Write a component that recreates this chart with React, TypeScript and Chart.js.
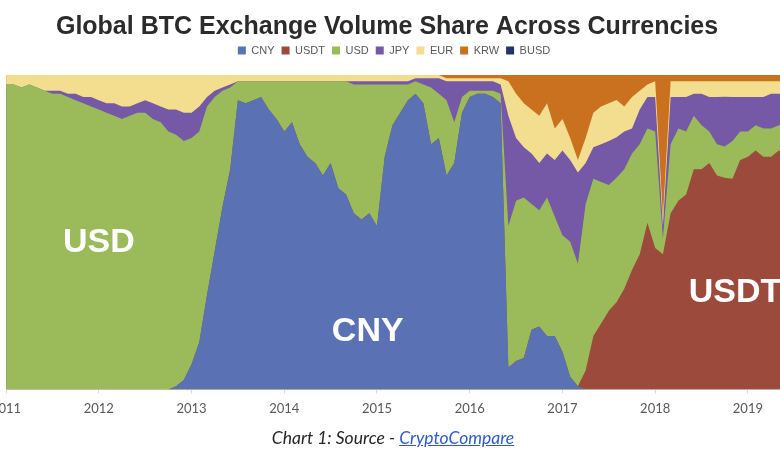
import React, { useEffect, useRef } from "react";
import { Chart, registerables } from "chart.js";

Chart.register(...registerables);

// ---- data (monthly shares, %, Jan 2011 .. Jun 2019) ----
const START_YEAR = 2011;
const currencies = ["CNY", "USDT", "USD", "JPY", "EUR", "KRW", "BUSD"];
const yearTicks = [2011, 2012, 2013, 2014, 2015, 2016, 2017, 2018, 2019];

const cny = [
  0, 0, 0, 0, 0, 0, 0, 0, 0, 0, 0, 0,
  0, 0, 0, 0, 0, 0, 0, 0, 0, 0, 1, 3,
  8, 15, 30, 44, 58, 70, 92, 91, 92, 93, 89, 86,
  82, 85, 78, 74, 72, 68, 72, 64, 62, 56, 54, 56,
  52, 74, 84, 88, 92, 94, 91, 78, 80, 68, 72, 88,
  93, 94, 94, 93, 91, 7, 9, 10, 19, 20, 17, 17,
  12, 4, 1, 0, 0, 0, 0, 0, 0, 0, 0, 0,
  0, 0, 0, 0, 0, 0, 0, 0, 0, 0, 0, 0,
  0, 0, 0, 0, 0, 0,
];
const usdt = [
  0, 0, 0, 0, 0, 0, 0, 0, 0, 0, 0, 0,
  0, 0, 0, 0, 0, 0, 0, 0, 0, 0, 0, 0,
  0, 0, 0, 0, 0, 0, 0, 0, 0, 0, 0, 0,
  0, 0, 0, 0, 0, 0, 0, 0, 0, 0, 0, 0,
  0, 0, 0, 0, 0, 0, 0, 0, 0, 0, 0, 0,
  0, 0, 0, 0, 0, 0, 0, 0, 0, 0, 0, 0,
  0, 0, 0, 6, 17, 21, 25, 28, 32, 38, 43, 53,
  45, 43, 56, 60, 62, 70, 70, 72, 68, 68, 67, 73,
  74, 76, 74, 74, 76, 75,
];
const usd = [
  97, 97, 96, 97, 96, 95, 94, 94, 93, 92, 91, 90,
  89, 88, 87, 86, 87, 88, 88, 86, 85, 82, 80, 76,
  72, 67, 60, 49, 37, 26, 6, 7, 6, 5, 9, 12,
  16, 13, 20, 24, 26, 30, 26, 34, 36, 41, 43, 41,
  45, 23, 13, 9, 5, 4, 6, 18, 14, 24, 13, 5,
  2, 1, 1, 2, 3, 45, 51, 51, 40, 37, 44, 38,
  37, 43, 39, 53, 50, 45, 40, 40, 38, 37, 35, 30,
  37, 5, 22, 23, 20, 17, 14, 10, 10, 10, 12, 9,
  8, 8, 9, 9, 8, 9,
];
const jpy = [
  0, 0, 0, 0, 0, 0, 1, 1, 1, 2, 2, 3,
  3, 3, 4, 4, 3, 3, 4, 5, 5, 7, 8, 9,
  8, 8, 3, 2, 1, 1, 0, 0, 0, 0, 0, 0,
  0, 0, 0, 0, 0, 0, 0, 0, 0, 1, 1, 1,
  1, 1, 1, 1, 1, 1, 2, 3, 5, 6, 13, 5,
  3, 3, 3, 3, 3, 35, 20, 16, 16, 15, 14, 18,
  27, 26, 29, 13, 10, 12, 14, 13, 12, 8, 11, 10,
  11, 4, 15, 10, 11, 7, 10, 11, 15, 16, 14, 11,
  11, 9, 10, 11, 10, 10,
];
const eur = [
  3, 3, 4, 3, 4, 5, 5, 5, 6, 6, 7, 7,
  8, 9, 9, 10, 10, 9, 8, 9, 10, 11, 11, 12,
  12, 10, 7, 5, 4, 3, 2, 2, 2, 2, 2, 2,
  2, 2, 2, 2, 2, 2, 2, 2, 2, 2, 2, 2,
  2, 2, 2, 2, 2, 1, 1, 1, 1, 1, 1, 1,
  1, 1, 1, 1, 2, 11, 14, 14, 14, 15, 16, 10,
  10, 7, 4, 8, 11, 12, 12, 12, 8, 10, 6, 4,
  5, 3, 5, 5, 5, 4, 4, 5, 5, 5, 5, 5,
  5, 5, 5, 4, 4, 4,
];
const krw = [
  0, 0, 0, 0, 0, 0, 0, 0, 0, 0, 0, 0,
  0, 0, 0, 0, 0, 0, 0, 0, 0, 0, 0, 0,
  0, 0, 0, 0, 0, 0, 0, 0, 0, 0, 0, 0,
  0, 0, 0, 0, 0, 0, 0, 0, 0, 0, 0, 0,
  0, 0, 0, 0, 0, 0, 0, 0, 0, 1, 1, 1,
  1, 1, 1, 1, 1, 2, 6, 9, 11, 13, 9, 17,
  14, 20, 27, 20, 12, 10, 9, 8, 10, 7, 5, 3,
  2, 45, 2, 2, 2, 2, 2, 2, 2, 2, 2, 2,
  2, 2, 2, 2, 2, 2,
];
const busd = [
  0, 0, 0, 0, 0, 0, 0, 0, 0, 0, 0, 0,
  0, 0, 0, 0, 0, 0, 0, 0, 0, 0, 0, 0,
  0, 0, 0, 0, 0, 0, 0, 0, 0, 0, 0, 0,
  0, 0, 0, 0, 0, 0, 0, 0, 0, 0, 0, 0,
  0, 0, 0, 0, 0, 0, 0, 0, 0, 0, 0, 0,
  0, 0, 0, 0, 0, 0, 0, 0, 0, 0, 0, 0,
  0, 0, 0, 0, 0, 0, 0, 0, 0, 0, 0, 0,
  0, 0, 0, 0, 0, 0, 0, 0, 0, 0, 0, 0,
  0, 0, 0, 0, 0, 0,
];

// in-area labels (text + data-space anchor)
const areaLabelText = ["USD", "CNY", "USDT"];
const areaLabelYear = [2012.0, 2014.9, 2018.86];
const areaLabelShare = [46.7, 18.4, 30.8];

const TITLE = "Global BTC Exchange Volume Share Across Currencies\u00a0\u00a0";

// ---- styles ----
const COLORS = ["#5a72b3", "#9c4a3c", "#9bba5a", "#7659a6", "#f2de8e", "#c9711f", "#25336d"];

const areaLabelPlugin = {
  id: "areaLabels",
  afterDatasetsDraw(chart: any) {
    const { ctx, scales } = chart;
    ctx.save();
    ctx.beginPath();
    const a = chart.chartArea;
    ctx.rect(a.left, a.top, a.right - a.left, a.bottom - a.top);
    ctx.clip();
    ctx.fillStyle = "#ffffff";
    ctx.font = "bold 34px 'Liberation Sans', Arial, sans-serif";
    ctx.textAlign = "center";
    ctx.textBaseline = "middle";
    areaLabelText.forEach((t, i) => {
      ctx.fillText(t, scales.x.getPixelForValue(areaLabelYear[i]), scales.y.getPixelForValue(areaLabelShare[i]));
    });
    ctx.restore();
  },
};

export default function App() {
  const ref = useRef<HTMLCanvasElement>(null);

  useEffect(() => {
    if (!ref.current) return;
    const series = [cny, usdt, usd, jpy, eur, krw, busd];
    const n = cny.length;
    const totals = Array.from({ length: n }, (_, i) => series.reduce((s, arr) => s + arr[i], 0));
    // Every stacked area is filled down to the axis; datasets are painted top-first,
    // so each lower currency covers the rest and no seams appear between bands.
    const datasets = series.map((arr, k) => ({
      label: currencies[k],
      data: arr.map((v, i) => ({ x: START_YEAR + i / 12, y: (v / totals[i]) * 100 })),
      backgroundColor: COLORS[k],
      borderColor: COLORS[k],
      borderWidth: 0,
      pointRadius: 0,
      pointHoverRadius: 0,
      tension: 0,
      fill: k === series.length - 1 ? false : "origin",
    }));

    const chart = new Chart(ref.current, {
      type: "line",
      data: { datasets },
      plugins: [areaLabelPlugin],
      options: {
        responsive: false,
        animation: false,
        layout: { padding: { left: 20, right: 20, top: 0, bottom: 5 } },
        plugins: {
          title: {
            display: true,
            text: TITLE,
            color: "#2b2b2b",
            font: { family: "'Liberation Sans', Arial, sans-serif", size: 25, weight: "bold" },
            padding: { top: 12, bottom: -4 },
          },
          subtitle: {
            display: true,
            text: "",
            weight: 500,
            font: { size: 1 },
            padding: { top: 0, bottom: 7.8 },
          },
          legend: {
            display: true,
            position: "top",
            labels: {
              boxWidth: 8,
              boxHeight: 8,
              padding: 7,
              color: "#595959",
              font: { family: "'Liberation Sans Narrow', 'Liberation Sans', sans-serif", size: 11 },
            },
          },
          tooltip: { enabled: false },
        },
        scales: {
          x: {
            type: "linear",
            min: 2011,
            max: 2019.4,
            afterBuildTicks: (scale: any) => {
              scale.ticks = yearTicks.map((v) => ({ value: v }));
            },
            ticks: {
              color: "#595959",
              font: { family: "Lato, sans-serif", size: 13 },
              padding: 8,
              maxRotation: 0,
              autoSkip: false,
              callback: (v: any) => String(v),
            },
            grid: { display: true, drawOnChartArea: false, drawTicks: true, tickLength: 4, color: "#d9d9d9" },
            border: { display: true, color: "#d9d9d9" },
          },
          y: {
            display: false,
            stacked: true,
            min: 0,
            max: 100,
          },
        },
      },
    });
    return () => chart.destroy();
  }, []);

  return (
    <div
      style={{
        position: "fixed",
        left: 0,
        top: 0,
        width: 780,
        height: 470,
        overflow: "hidden",
        background: "#ffffff",
      }}
    >
      <canvas ref={ref} width={822} height={430} style={{ position: "absolute", left: -17, top: 0 }} />
      <div
        style={{
          position: "absolute",
          left: 0,
          top: 428,
          width: 786,
          textAlign: "center",
          fontFamily: "Lato, sans-serif",
          fontStyle: "italic",
          fontSize: 17.5,
          color: "#262626",
          lineHeight: "20px",
        }}
      >
        Chart 1: Source -{" "}
        <span style={{ color: "#2e5cc8", textDecoration: "underline" }}>CryptoCompare</span>
      </div>
    </div>
  );
}
